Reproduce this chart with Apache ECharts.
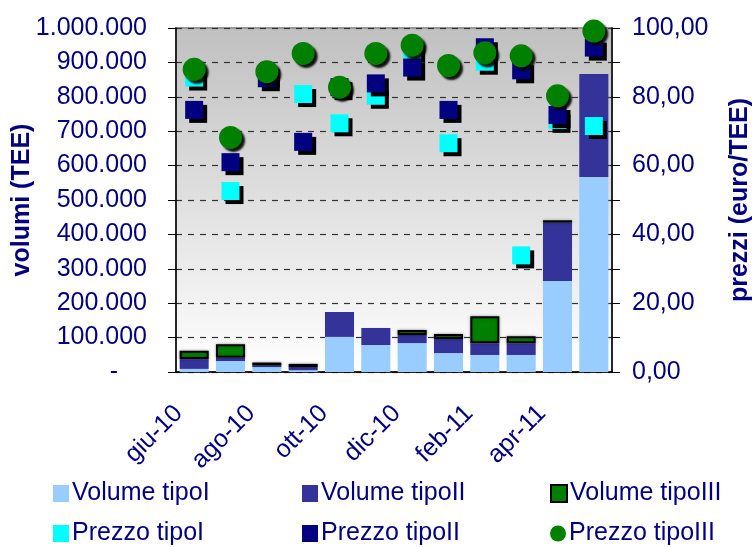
<!DOCTYPE html>
<html>
<head>
<meta charset="utf-8">
<script src="https://cdn.jsdelivr.net/npm/echarts@6/dist/echarts.min.js"></script>
<style>
  html, body { margin: 0; padding: 0; background: #fff; }
  #chart { width: 752px; height: 547px; }
</style>
</head>
<body>
<div id="chart"></div>
<script>
// Monthly categories
const months = ['giu-10', 'lug-10', 'ago-10', 'set-10', 'ott-10', 'nov-10',
                'dic-10', 'gen-11', 'feb-11', 'mar-11', 'apr-11', 'mag-11'];

// Volumes (TEE), stacked
const volumeTipoI   = [9000, 32000, 14500, 5000, 102000, 78500, 84000, 55000, 49500, 49500, 264500, 567000];
const volumeTipoII  = [28500, 9500, 4000, 9500, 72500, 49500, 23500, 41000, 34000, 34000, 169500, 299500];
const volumeTipoIII = [24000, 39000, 9000, 9000, null, null, 14500, 14500, 78500, 20500, 7000, null];

// Prices (euro/TEE)
const prezzoTipoI   = [85.6, 52.6, 86.6, 80.8, 72.3, 80.3, 93.7, 66.5, 90.2, 33.9, 73.3, 71.5];
const prezzoTipoII  = [76.2, 61.0, 85.4, 66.9, 82.8, 83.9, 88.5, 76.2, 94.4, 87.7, 74.7, 94.3];
const prezzoTipoIII = [88.0, 68.2, 87.3, 92.6, 82.8, 92.6, 95.0, 89.1, 92.8, 91.9, 80.3, 99.1];

const names = ['Volume tipoI', 'Volume tipoII', 'Volume tipoIII',
               'Prezzo tipoI', 'Prezzo tipoII', 'Prezzo tipoIII'];

const NAVY = '#000080';
const FONT = '"Liberation Sans", Arial, sans-serif';

function thousands(v) {
  return String(v).replace(/\B(?=(\d{3})+(?!\d))/g, '.');
}

const chart = echarts.init(document.getElementById('chart'), null, { renderer: 'canvas' });

const squareShadow = {
  opacity: 1, shadowColor: '#000', shadowBlur: 0, shadowOffsetX: 4, shadowOffsetY: 4
};

// One legend block per entry, laid out in a 3 x 2 grid
const legendCols = [53, 302, 550];
const legendRows = [481, 521];
const legends = names.map((n, i) => ({
  data: [n],
  left: legendCols[i % 3],
  top: legendRows[Math.floor(i / 3)],
  padding: 0,
  itemWidth: 16,
  itemHeight: 17,
  itemGap: 0,
  selectedMode: false,
  icon: n === 'Prezzo tipoIII' ? 'circle' : 'rect',
  itemStyle: { opacity: 1, shadowBlur: 0, shadowOffsetX: 0, shadowOffsetY: 0, shadowColor: 'rgba(0,0,0,0)' },
  textStyle: { color: NAVY, fontSize: 25, fontFamily: FONT, padding: [0, 0, 0, -2] }
}));

const option = {
  animation: false,
  backgroundColor: '#fff',
  textStyle: { fontFamily: FONT },
  legend: legends,
  grid: {
    left: 176, right: 140, top: 28, bottom: 175,
    containLabel: false,
    outerBoundsMode: 'none',
    show: true,
    borderColor: '#999',
    borderWidth: 2,
    backgroundColor: {
      type: 'linear', x: 0, y: 0, x2: 0, y2: 1,
      colorStops: [{ offset: 0, color: '#C0C0C0' }, { offset: 1, color: '#FFFFFF' }]
    }
  },
  xAxis: {
    type: 'category',
    data: months,
    boundaryGap: true,
    axisLine: { lineStyle: { color: '#000', width: 1.5 } },
    axisTick: { interval: 1, length: 8, lineStyle: { color: '#000', width: 1.5 } },
    axisLabel: {
      interval: 1, rotate: 45, margin: 22,
      padding: [0, 22, 0, 0],
      color: NAVY, fontSize: 25, fontFamily: FONT
    },
    splitLine: { show: false }
  },
  yAxis: [
    {
      type: 'value', min: 0, max: 1000000, interval: 100000,
      name: 'volumi (TEE)',
      nameLocation: 'middle', nameGap: 141, nameRotate: 90,
      nameMoveOverlap: false,
      nameTextStyle: { color: NAVY, fontSize: 25, fontWeight: 'bold', fontFamily: FONT },
      axisLine: { show: true, lineStyle: { color: '#000', width: 1.5 } },
      axisTick: { show: true, length: 8, lineStyle: { color: '#000' } },
      axisLabel: {
        margin: 29, color: NAVY, fontSize: 25, fontFamily: FONT,
        formatter: v => v === 0 ? '{z|-}' : thousands(v),
        rich: { z: { padding: [0, 29, 0, 0], color: NAVY, fontSize: 25, fontFamily: FONT } }
      },
      splitLine: { show: true, lineStyle: { color: '#333', type: [6, 6], width: 1.2 } }
    },
    {
      type: 'value', min: 0, max: 100, interval: 20,
      name: 'prezzi (euro/TEE)',
      nameLocation: 'middle', nameGap: 116, nameRotate: 90,
      nameMoveOverlap: false,
      nameTextStyle: { color: NAVY, fontSize: 25, fontWeight: 'bold', fontFamily: FONT },
      axisLine: { show: true, lineStyle: { color: '#000', width: 1.5 } },
      axisTick: { show: true, length: 8, lineStyle: { color: '#000' } },
      minorTick: { show: true, splitNumber: 2, length: 8, lineStyle: { color: '#000' } },
      axisLabel: {
        margin: 20, color: NAVY, fontSize: 25, fontFamily: FONT,
        formatter: v => v.toFixed(2).replace('.', ',')
      },
      splitLine: { show: false }
    }
  ],
  series: [
    {
      name: 'Volume tipoI', type: 'bar', stack: 'vol', yAxisIndex: 0,
      barCategoryGap: '20%',
      itemStyle: { color: '#99CCFF' },
      data: volumeTipoI
    },
    {
      name: 'Volume tipoII', type: 'bar', stack: 'vol', yAxisIndex: 0,
      barCategoryGap: '20%',
      itemStyle: { color: '#333399' },
      data: volumeTipoII
    },
    {
      name: 'Volume tipoIII', type: 'bar', stack: 'vol', yAxisIndex: 0,
      barCategoryGap: '20%',
      itemStyle: {
        color: '#008000', borderColor: '#000', borderWidth: 2,
        shadowColor: 'rgba(0,0,0,0.35)', shadowBlur: 3
      },
      data: volumeTipoIII
    },
    {
      name: 'Prezzo tipoI', type: 'scatter', yAxisIndex: 1,
      symbol: 'rect', symbolSize: 18,
      itemStyle: Object.assign({ color: '#00FFFF' }, squareShadow),
      emphasis: { disabled: true },
      data: prezzoTipoI, z: 3
    },
    {
      name: 'Prezzo tipoII', type: 'scatter', yAxisIndex: 1,
      symbol: 'rect', symbolSize: 18,
      itemStyle: Object.assign({ color: '#000080' }, squareShadow),
      emphasis: { disabled: true },
      data: prezzoTipoII, z: 3
    },
    {
      name: 'Prezzo tipoIII', type: 'scatter', yAxisIndex: 1,
      symbol: 'circle', symbolSize: 23,
      itemStyle: {
        color: '#008000', opacity: 1, shadowColor: 'rgba(0,0,0,0.9)', shadowBlur: 2,
        shadowOffsetX: 3, shadowOffsetY: 3
      },
      emphasis: { disabled: true },
      data: prezzoTipoIII, z: 3
    }
  ]
};

chart.setOption(option);
</script>
</body>
</html>
